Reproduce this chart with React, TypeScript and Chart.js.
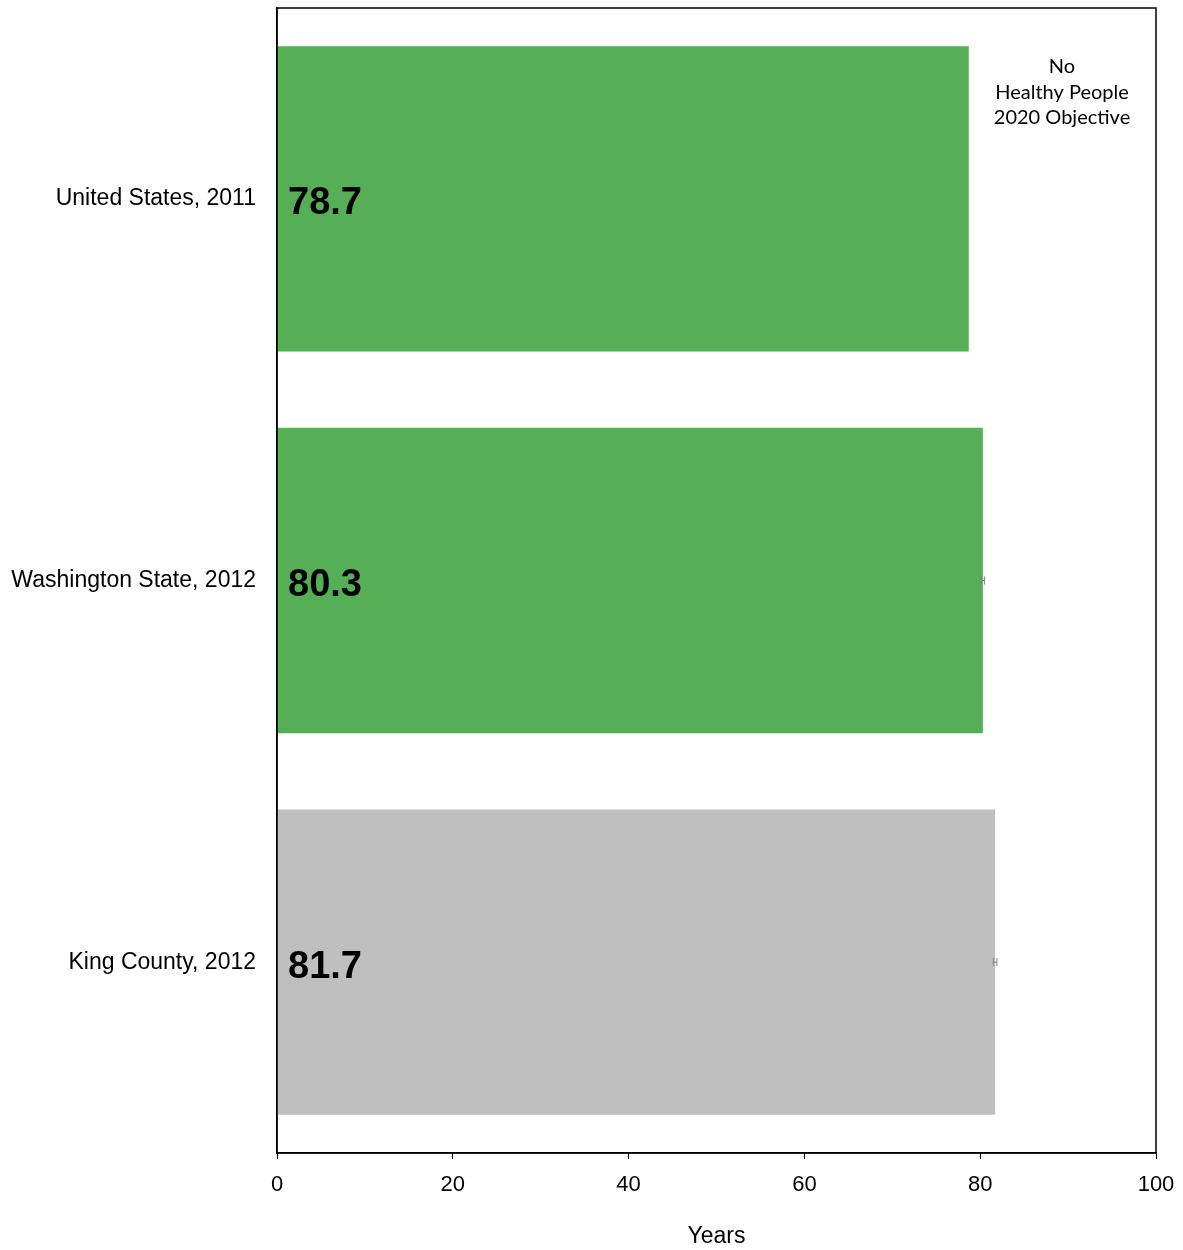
import React, { useEffect, useRef } from "react";
import { Chart, registerables } from "chart.js";

Chart.register(...registerables);

const categories = ["United States, 2011", "Washington State, 2012", "King County, 2012"];
const values = [78.7, 80.3, 81.7];
const ciLower: (number | null)[] = [null, 80.1, 81.5];
const ciUpper: (number | null)[] = [null, 80.5, 81.9];
const barColors = ["#56AF57", "#56AF57", "#BFBFBF"];
const xTicks = [0, 20, 40, 60, 80, 100];
const xTitle = "Years";
const noteLines = ["No", "Healthy People", "2020 Objective"];

const overlayPlugin = {
  id: "overlay",
  afterDatasetsDraw(chart: any) {
    const { ctx, chartArea, scales } = chart;
    const xs = scales.x;
    const ys = scales.y;
    ctx.save();
    // error bars
    ctx.strokeStyle = "#7f7f7f";
    ctx.lineWidth = 1;
    for (let i = 0; i < values.length; i++) {
      const lo = ciLower[i];
      const hi = ciUpper[i];
      if (lo == null || hi == null) continue;
      const y = ys.getPixelForValue(i);
      const x1 = xs.getPixelForValue(lo);
      const x2 = xs.getPixelForValue(hi);
      ctx.beginPath();
      ctx.moveTo(x1, y);
      ctx.lineTo(x2, y);
      ctx.moveTo(x1, y - 4);
      ctx.lineTo(x1, y + 4);
      ctx.moveTo(x2, y - 4);
      ctx.lineTo(x2, y + 4);
      ctx.stroke();
    }
    // value labels
    ctx.fillStyle = "#000";
    ctx.font = "bold 38px 'Liberation Sans', Arial, sans-serif";
    ctx.textAlign = "left";
    ctx.textBaseline = "middle";
    for (let i = 0; i < values.length; i++) {
      const y = ys.getPixelForValue(i);
      ctx.fillText(values[i].toFixed(1), chartArea.left + 11, y + 5);
    }
    // note
    ctx.font = "20px Lato, 'Open Sans', sans-serif";
    ctx.textAlign = "center";
    const cx = chartArea.right - 94;
    noteLines.forEach((t, k) => {
      ctx.fillText(t, cx, chartArea.top + 59 + k * 25.5);
    });
    // border
    ctx.strokeStyle = "#000";
    ctx.lineWidth = 1.5;
    ctx.strokeRect(chartArea.left, chartArea.top, chartArea.right - chartArea.left, chartArea.bottom - chartArea.top);
    ctx.restore();
  },
};

export default function App() {
  const ref = useRef<HTMLCanvasElement>(null);
  useEffect(() => {
    if (!ref.current) return;
    const chart = new Chart(ref.current, {
      type: "bar",
      data: {
        labels: categories,
        datasets: [
          {
            data: values,
            backgroundColor: barColors,
            borderWidth: 0,
            barPercentage: 0.8,
            categoryPercentage: 1.0,
          },
        ],
      },
      options: {
        indexAxis: "y",
        animation: false,
        responsive: false,
        devicePixelRatio: 1,
        layout: { padding: { left: 0, right: 27, top: 8, bottom: 0 } },
        plugins: { legend: { display: false }, tooltip: { enabled: false } },
        scales: {
          x: {
            min: 0,
            max: 100,
            afterBuildTicks: (axis: any) => {
              axis.ticks = xTicks.map((v) => ({ value: v }));
            },
            afterFit: (axis: any) => {
              axis.height = 97;
              axis.paddingLeft = 0;
              axis.paddingRight = 0;
              axis.paddingTop = 0;
              axis.paddingBottom = 0;
            },
            grid: { display: true, drawOnChartArea: false, drawTicks: true, tickLength: 6, color: "#000", lineWidth: 1 },
            border: { display: true, color: "#000", width: 1.5 },
            ticks: {
              color: "#000",
              padding: 13,
              font: { family: "'Liberation Sans', Arial, sans-serif", size: 22 },
            },
            title: {
              display: true,
              text: xTitle,
              color: "#000",
              padding: { top: 26, bottom: 0 },
              font: { family: "'Liberation Sans', Arial, sans-serif", size: 23 },
            },
          },
          y: {
            afterFit: (axis: any) => {
              axis.width = 277;
              axis.paddingLeft = 0;
              axis.paddingRight = 0;
              axis.paddingTop = 0;
              axis.paddingBottom = 0;
            },
            grid: { display: false },
            border: { display: true, color: "#000", width: 1.5 },
            ticks: {
              color: "#000",
              padding: 13,
              font: { family: "'Liberation Sans', Arial, sans-serif", size: 23 },
            },
          },
        },
      },
      plugins: [overlayPlugin],
    });
    return () => chart.destroy();
  }, []);
  return (
    <div style={{ position: "absolute", left: 0, top: 0, width: 1183, height: 1250, background: "#fff" }}>
      <canvas ref={ref} width={1183} height={1250} style={{ width: 1183, height: 1250 }} />
    </div>
  );
}
